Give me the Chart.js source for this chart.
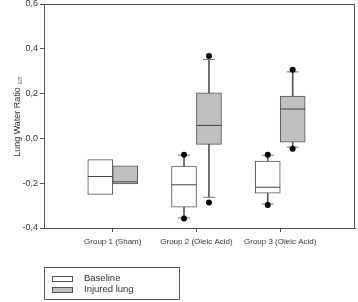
<!DOCTYPE html>
<html>
<head>
<meta charset="utf-8">
<script src="https://cdn.jsdelivr.net/npm/chart.js@4.4.1/dist/chart.umd.min.js"></script>
<style>
  html, body { margin: 0; padding: 0; background: #fff; }
  #wrap { width: 358px; height: 302px; }
</style>
</head>
<body>
<div id="wrap"><canvas id="lungChart" width="358" height="302"></canvas></div>
<script>
const categories = ["Group 1 (Sham)", "Group 2 (Oleic Acid)", "Group 3 (Oleic Acid)"];
const groupPos = [1, 2, 3];

// baseline boxes
const baselineQ1 = [-0.25, -0.307, -0.245];
const baselineMedian = [-0.17, -0.207, -0.218];
const baselineQ3 = [-0.095, -0.124, -0.101];
const baselineWhiskerLow = [null, -0.355, -0.293];
const baselineWhiskerHigh = [null, -0.075, -0.075];
const baselineOutLow = [null, -0.358, -0.297];
const baselineOutHigh = [null, -0.073, -0.073];

// injured lung boxes
const injuredQ1 = [-0.203, -0.027, -0.017];
const injuredMedian = [-0.194, 0.058, 0.131];
const injuredQ3 = [-0.122, 0.203, 0.189];
const injuredWhiskerLow = [null, -0.263, -0.039];
const injuredWhiskerHigh = [null, 0.352, 0.297];
const injuredOutLow = [null, -0.286, -0.046];
const injuredOutHigh = [null, 0.368, 0.307];

const yTicks = [-0.4, -0.2, 0.0, 0.2, 0.4, 0.6];

const dodge = 0.149;
const FONT = "'Liberation Sans', Arial, sans-serif";
const LINE = "#555";

function shifted(sign) {
  return groupPos.map((g) => g + sign * dodge);
}
const xBase = shifted(-1);
const xInj = shifted(1);

function ranges(xs, lo, hi) {
  return xs.map((x, i) => (lo[i] == null ? null : { x: x, y: [lo[i], hi[i]] }))
    .filter((d) => d !== null);
}
function points(xs, vals) {
  return xs.map((x, i) => (vals[i] == null ? null : { x: x, y: vals[i] }))
    .filter((d) => d !== null);
}

const frame = {
  id: "frame",
  beforeDatasetsDraw(chart) {
    const a = chart.chartArea;
    const ctx = chart.ctx;
    ctx.save();
    ctx.strokeStyle = LINE;
    ctx.lineWidth = 1;
    ctx.strokeRect(Math.round(a.left) + 0.5, Math.round(a.top) + 0.5,
      Math.round(a.right - a.left) - 1, Math.round(a.bottom - a.top));
    ctx.restore();
  },
};

const yTitle = {
  id: "yTitle",
  afterDraw(chart) {
    const ctx = chart.ctx;
    ctx.save();
    ctx.translate(18, 122);
    ctx.rotate(-Math.PI / 2);
    ctx.fillStyle = "#333";
    ctx.font = "9px " + FONT;
    ctx.textAlign = "center";
    ctx.textBaseline = "middle";
    const main = "Lung Water Ratio";
    const w = ctx.measureText(main).width;
    ctx.fillText(main, 0, 0);
    ctx.font = "5px " + FONT;
    ctx.textAlign = "left";
    ctx.fillText("EIT", w / 2 + 3, 3);
    ctx.restore();
  },
};

const boxLegend = {
  id: "boxLegend",
  afterDraw(chart) {
    const ctx = chart.ctx;
    const items = [
      { label: "Baseline", fill: chart.data.datasets[2].backgroundColor, y: 278.5 },
      { label: "Injured lung", fill: chart.data.datasets[3].backgroundColor, y: 289.5 },
    ];
    ctx.save();
    ctx.strokeStyle = LINE;
    ctx.lineWidth = 1;
    ctx.strokeRect(44.5, 267.5, 135, 32);
    ctx.font = "9.5px " + FONT;
    ctx.textBaseline = "middle";
    items.forEach((it) => {
      ctx.fillStyle = it.fill;
      ctx.fillRect(52.5, Math.round(it.y) - 2.5, 20, 5);
      ctx.strokeRect(52.5, Math.round(it.y) - 2.5, 20, 5);
      ctx.fillStyle = "#333";
      ctx.fillText(it.label, 84, it.y);
    });
    ctx.restore();
  },
};

const ctx = document.getElementById("lungChart").getContext("2d");

new Chart(ctx, {
  type: "bar",
  data: {
    datasets: [
      {
        label: "whiskers baseline",
        data: ranges(xBase, baselineWhiskerLow, baselineWhiskerHigh),
        backgroundColor: LINE,
        barThickness: 1,
        grouped: false,
        order: 6,
      },
      {
        label: "whiskers injured",
        data: ranges(xInj, injuredWhiskerLow, injuredWhiskerHigh),
        backgroundColor: LINE,
        barThickness: 1,
        grouped: false,
        order: 6,
      },
      {
        label: "Baseline",
        data: ranges(xBase, baselineQ1, baselineQ3),
        backgroundColor: "#ffffff",
        borderColor: LINE,
        borderWidth: 1,
        borderSkipped: false,
        barThickness: 25,
        grouped: false,
        order: 5,
      },
      {
        label: "Injured lung",
        data: ranges(xInj, injuredQ1, injuredQ3),
        backgroundColor: "#c0c0c0",
        borderColor: LINE,
        borderWidth: 1,
        borderSkipped: false,
        barThickness: 25,
        grouped: false,
        order: 5,
      },
      {
        type: "scatter",
        label: "medians",
        data: points(xBase, baselineMedian).concat(points(xInj, injuredMedian)),
        pointStyle: "line",
        pointRadius: 12.5,
        borderColor: "#444",
        borderWidth: 1,
        order: 4,
      },
      {
        type: "scatter",
        label: "caps",
        data: points(xBase, baselineWhiskerLow)
          .concat(points(xBase, baselineWhiskerHigh))
          .concat(points(xInj, injuredWhiskerLow))
          .concat(points(xInj, injuredWhiskerHigh)),
        pointStyle: "line",
        pointRadius: 6,
        borderColor: "#777",
        borderWidth: 1,
        order: 3,
      },
      {
        type: "scatter",
        label: "outliers",
        data: points(xBase, baselineOutLow)
          .concat(points(xBase, baselineOutHigh))
          .concat(points(xInj, injuredOutLow))
          .concat(points(xInj, injuredOutHigh)),
        pointStyle: "circle",
        pointRadius: 3,
        backgroundColor: "#000",
        borderColor: "#000",
        borderWidth: 0,
        order: 2,
      },
    ],
  },
  options: {
    responsive: false,
    animation: false,
    layout: { padding: { top: 4, right: 3, left: 0, bottom: 0 }, autoPadding: false },
    plugins: {
      legend: { display: false },
      tooltip: { enabled: false },
    },
    scales: {
      x: {
        type: "linear",
        offset: false,
        min: 0.179,
        max: 3.893,
        afterBuildTicks: (scale) => {
          scale.ticks = groupPos.map((v) => ({ value: v }));
        },
        afterFit: (scale) => {
          scale.height = 74;
          scale.paddingLeft = 0;
          scale.paddingRight = 0;
        },
        grid: {
          offset: false,
          drawOnChartArea: false,
          drawTicks: true,
          tickLength: 4,
          color: LINE,
        },
        border: { display: true, color: LINE },
        ticks: {
          autoSkip: false,
          maxRotation: 0,
          padding: 5,
          color: "#333",
          font: { family: FONT, size: 8 },
          callback: (v) => categories[groupPos.indexOf(v)] || "",
        },
      },
      y: {
        min: -0.4,
        max: 0.6,
        afterBuildTicks: (scale) => {
          scale.ticks = yTicks.map((v) => ({ value: v }));
        },
        afterFit: (scale) => {
          scale.width = 44;
          scale.paddingTop = 0;
          scale.paddingBottom = 0;
        },
        grid: {
          drawOnChartArea: false,
          drawTicks: true,
          tickLength: 4,
          color: LINE,
        },
        border: { display: true, color: LINE },
        ticks: {
          padding: 2,
          color: "#333",
          font: { family: FONT, size: 9 },
          callback: (v) => Number(v).toFixed(1).replace(".", ","),
        },
      },
    },
  },
  plugins: [frame, yTitle, boxLegend],
});
</script>
</body>
</html>
